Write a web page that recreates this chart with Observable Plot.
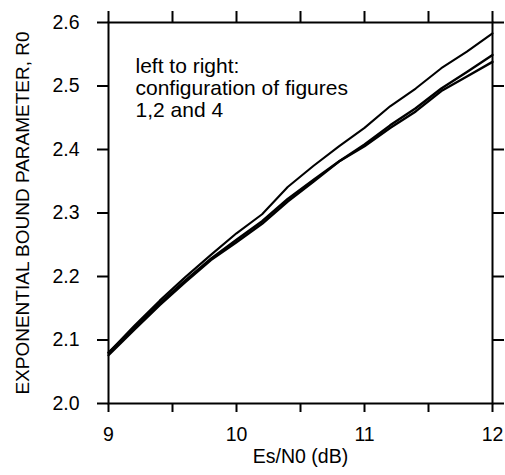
<!DOCTYPE html>
<html>
<head>
<meta charset="utf-8">
<script src="https://cdn.jsdelivr.net/npm/d3@7"></script>
<script src="https://cdn.jsdelivr.net/npm/@observablehq/plot@0.6"></script>
<style>
  html, body { margin: 0; padding: 0; background: #fff; }
  #chart svg { display: block; }
</style>
</head>
<body>
<div id="chart"></div>
<script>
const esn0 = [9.0, 9.2, 9.4, 9.6, 9.8, 10.0, 10.2, 10.4, 10.6, 10.8, 11.0, 11.2, 11.4, 11.6, 11.8, 12.0];
const config1 = [2.080, 2.122, 2.162, 2.199, 2.234, 2.268, 2.298, 2.341, 2.374, 2.405, 2.434, 2.468, 2.496, 2.528, 2.554, 2.583];
const config2 = [2.080, 2.119, 2.158, 2.194, 2.228, 2.258, 2.287, 2.322, 2.352, 2.381, 2.408, 2.438, 2.465, 2.496, 2.522, 2.549];
const config4 = [2.076, 2.116, 2.155, 2.191, 2.226, 2.254, 2.283, 2.318, 2.349, 2.381, 2.405, 2.434, 2.460, 2.492, 2.515, 2.538];
const xTicks = [9, 9.5, 10, 10.5, 11, 11.5, 12];
const xLabels = [9, 10, 11, 12];
const yTicks = [2.0, 2.1, 2.2, 2.3, 2.4, 2.5, 2.6];
const xTitle = "Es/N0 (dB)";
const yTitle = "EXPONENTIAL BOUND PARAMETER, R0";
const note = "left to right:\nconfiguration of figures\n1,2 and 4";

const series = [
  {name: "1", values: config1, w: 2.1},
  {name: "2", values: config2, w: 2.4},
  {name: "4", values: config4, w: 2.4}
];
const rows = series.flatMap(s => esn0.map((x, i) => ({x, y: s.values[i], s: s.name, w: s.w})));

const font = "'Liberation Sans', Arial, Helvetica, sans-serif";

const chart = Plot.plot({
  width: 505,
  height: 475,
  marginLeft: 108,
  marginRight: 13,
  marginTop: 22,
  marginBottom: 72,
  style: {fontFamily: font, fontSize: "19px", color: "black", background: "white"},
  x: {domain: [9, 12]},
  y: {domain: [2.0, 2.6]},
  marks: [
    Plot.axisX({anchor: "bottom", ticks: xTicks, tickSize: 9, tickFormat: d => xLabels.includes(d) ? String(d) : "", tickPadding: 15, label: null, strokeWidth: 2, fontSize: 19.5}),
    Plot.axisX({anchor: "top", ticks: xTicks, tickSize: 12, tickFormat: () => "", label: null, strokeWidth: 2}),
    Plot.axisY({anchor: "left", ticks: yTicks, tickSize: 11, tickFormat: d => d.toFixed(1), tickPadding: 18, label: null, strokeWidth: 2, fontSize: 19.5}),
    Plot.axisY({anchor: "right", ticks: yTicks, tickSize: 11, tickFormat: () => "", label: null, strokeWidth: 2}),
    Plot.frame({stroke: "black", strokeWidth: 2}),
    Plot.line(rows, {x: "x", y: "y", z: "s", stroke: "black", strokeWidth: "w", strokeLinejoin: "round"}),
    Plot.text([note], {frameAnchor: "top-left", dx: 27, dy: 35, lineAnchor: "top", textAnchor: "start", fontSize: 21, lineHeight: 1.05, fill: "black"}),
    Plot.text([xTitle], {frameAnchor: "bottom", dy: 59, fontSize: 19.5, fill: "black"}),
    Plot.text([yTitle], {frameAnchor: "left", dx: -86, rotate: -90, textAnchor: "middle", fontSize: 19, fill: "black"})
  ]
});
document.getElementById("chart").appendChild(chart);
</script>
</body>
</html>
